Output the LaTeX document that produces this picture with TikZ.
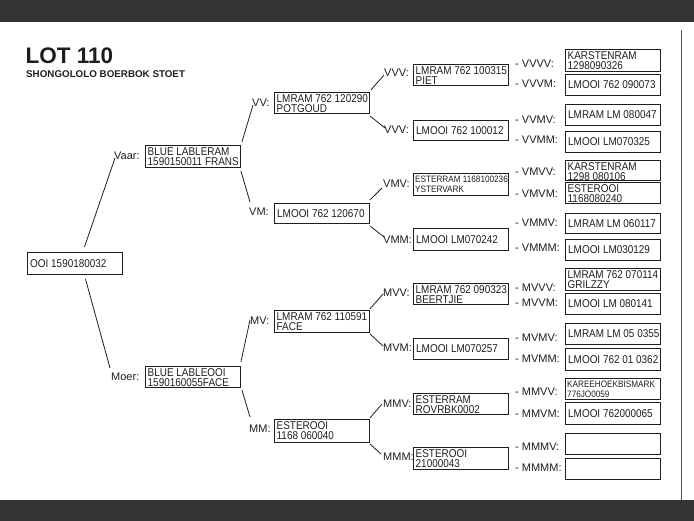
\documentclass[tikz,border=0pt]{standalone}
\usepackage{fontspec}
\setmainfont{Liberation Sans}
\newfontfamily\bxf[FakeStretch=0.88]{Liberation Sans}
\usetikzlibrary{calc}
\definecolor{bar}{HTML}{333333}
\definecolor{ink}{HTML}{1E1E1E}
\definecolor{rule}{HTML}{555555}
\newcommand\TwoBox[5]{\node[pbox,minimum height=#4] (b#1) at (#2,#3) {};
  \node[ptxt] (t#1) at ($(b#1.north west)+(2.5,2.5)$) {#5};}
\newcommand\SmlBox[5]{\node[pbox,minimum height=#4] (b#1) at (#2,#3) {};
  \node[stxt] (t#1) at ($(b#1.north west)+(2,2.5)$) {#5};}
\newcommand\OneBox[5]{\node[pbox,minimum height=#4] (b#1) at (#2,#3) {};
  \node[otxt] (t#1) at ($(b#1.west)+(3,0)$) {#5};}
\newcommand\NilBox[4]{\node[pbox,minimum height=#4] (b#1) at (#2,#3) {};}
\newcommand\Lab[4]{\node[lab] (l#1) at (#2,#3) {#4};}
\begin{document}
\begin{tikzpicture}[x=1pt,y=-1pt,
  pbox/.style={draw=ink, line width=0.9pt, anchor=north west, minimum width=95pt, inner sep=0pt},
  ptxt/.style={anchor=north west, inner sep=0pt, align=left, text=ink, font=\bxf\fontsize{11.3}{10.2}\selectfont},
  stxt/.style={anchor=north west, inner sep=0pt, align=left, text=ink, font=\bxf\fontsize{9.3}{10}\selectfont},
  otxt/.style={anchor=west, inner sep=0pt, text=ink, font=\bxf\fontsize{11.3}{11}\selectfont},
  lab/.style={anchor=west, inner sep=0pt, text=ink, font=\fontsize{11}{11}\selectfont},
  conn/.style={draw=ink, line width=0.8pt}]
\useasboundingbox (0,0) rectangle (694,521);
\fill[bar] (0,0) rectangle (694,22);
\fill[bar] (0,500) rectangle (694,521);
\draw[rule, line width=0.8pt] (681,30) -- (681,500);

\node[anchor=base west, inner sep=0pt, text=ink, font=\bfseries\fontsize{22.5}{22}\selectfont] (title) at (25.5,64) {LOT 110};
\node[anchor=base west, inner sep=0pt, text=ink, font=\bfseries\fontsize{9.8}{10}\selectfont] (subtitle) at (26,77.5) {SHONGOLOLO BOERBOK STOET};

% generation 0 and 1
\OneBox{root}{27}{252}{22pt}{OOI 1590180032}
\TwoBox{v}{145}{145}{22pt}{BLUE LABLERAM\\1590150011 FRANS}
\TwoBox{m}{145}{366}{21pt}{BLUE LABLEOOI\\1590160055FACE}
% generation 2
\TwoBox{vv}{274}{92}{21pt}{LMRAM 762 120290\\POTGOUD}
\OneBox{vm}{274}{203}{20pt}{LMOOI 762 120670}
\TwoBox{mv}{274}{310}{22pt}{LMRAM 762 110591\\FACE}
\TwoBox{mm}{274}{419}{23pt}{ESTEROOI\\1168 060040}
% generation 3
\TwoBox{vvv}{413}{64}{21pt}{LMRAM 762 100315\\PIET}
\OneBox{vvm}{413}{120}{20pt}{LMOOI 762 100012}
\SmlBox{vmv}{413}{173}{22pt}{ESTERRAM 1168100236\\YSTERVARK}
\OneBox{vmm}{413}{228}{22pt}{LMOOI LM070242}
\TwoBox{mvv}{413}{283}{21pt}{LMRAM 762 090323\\BEERTJIE}
\OneBox{mvm}{413}{338}{21pt}{LMOOI LM070257}
\TwoBox{mmv}{413}{393}{21pt}{ESTERRAM\\ROVRBK0002}
\TwoBox{mmm}{413}{447}{22pt}{ESTEROOI\\21000043}
% generation 4
\TwoBox{vvvv}{565}{49}{22pt}{KARSTENRAM\\1298090326}
\OneBox{vvvm}{565}{74}{21pt}{LMOOI 762 090073}
\OneBox{vvmv}{565}{104}{21pt}{LMRAM LM 080047}
\OneBox{vvmm}{565}{131}{21pt}{LMOOI LM070325}
\TwoBox{vmvv}{565}{160}{20pt}{KARSTENRAM\\1298 080106}
\TwoBox{vmvm}{565}{182}{21pt}{ESTEROOI\\1168080240}
\OneBox{vmmv}{565}{213}{20pt}{LMRAM LM 060117}
\OneBox{vmmm}{565}{239}{21pt}{LMOOI LM030129}
\TwoBox{mvvv}{565}{268}{22pt}{LMRAM 762 070114\\GRILZZY}
\OneBox{mvvm}{565}{293}{21pt}{LMOOI LM 080141}
\OneBox{mvmv}{565}{323}{21pt}{LMRAM LM 05 0355}
\OneBox{mvmm}{565}{348}{22pt}{LMOOI 762 01 0362}
\SmlBox{mmvv}{565}{378}{21pt}{KAREEHOEKBISMARK\\776JO0059}
\OneBox{mmvm}{565}{402}{22pt}{LMOOI 762000065}
\NilBox{mmmv}{565}{433}{21pt}
\NilBox{mmmm}{565}{458}{21pt}

% labels
\Lab{vaar}{114}{155.5}{Vaar:}
\Lab{moer}{111}{377}{Moer:}
\Lab{vv}{252}{103}{VV:}
\Lab{vm}{249}{212}{VM:}
\Lab{mv}{250}{321}{MV:}
\Lab{mm}{249}{429}{MM:}
\Lab{vvv}{384}{73}{VVV:}
\Lab{vvm}{384}{130}{VVV:}
\Lab{vmv}{383}{184}{VMV:}
\Lab{vmm}{383}{240}{VMM:}
\Lab{mvv}{383}{293}{MVV:}
\Lab{mvm}{383}{348}{MVM:}
\Lab{mmv}{383}{404}{MMV:}
\Lab{mmm}{383}{457}{MMM:}
\Lab{vvvv}{515}{64}{- VVVV:}
\Lab{vvvm}{515}{84}{- VVVM:}
\Lab{vvmv}{515}{120}{- VVMV:}
\Lab{vvmm}{515}{140}{- VVMM:}
\Lab{vmvv}{515}{172}{- VMVV:}
\Lab{vmvm}{515}{194}{- VMVM:}
\Lab{vmmv}{515}{223}{- VMMV:}
\Lab{vmmm}{515}{248}{- VMMM:}
\Lab{mvvv}{515}{288}{- MVVV:}
\Lab{mvvm}{515}{303}{- MVVM:}
\Lab{mvmv}{515}{338}{- MVMV:}
\Lab{mvmm}{515}{359}{- MVMM:}
\Lab{mmvv}{515}{392}{- MMVV:}
\Lab{mmvm}{515}{414}{- MMVM:}
\Lab{mmmv}{515}{447}{- MMMV:}
\Lab{mmmm}{515}{468}{- MMMM:}

% connectors
\draw[conn] ($(broot.north)+(9.5,-5)$) -- ($(lvaar.west)+(1,2.5)$);
\draw[conn] ($(broot.south)+(10.5,4)$) -- ($(lmoer.west)+(-1,-9)$);
\draw[conn] ($(bv.north east)+(1,-3)$) -- ($(lvv.west)+(1,2)$);
\draw[conn] ($(bv.south east)+(0,3)$) -- ($(lvm.west)+(1,-10)$);
\draw[conn] ($(bm.north east)+(0,-4)$) -- ($(lmv.west)+(0,-1)$);
\draw[conn] ($(bm.south east)+(1,2)$) -- ($(lmm.west)+(1,-12)$);
\draw[conn] ($(bvv.north east)+(1,-2)$) -- ($(lvvv.west)+(0,2)$);
\draw[conn] ($(bvv.south east)+(0,2)$) -- ($(lvvm.west)+(1,-2)$);
\draw[conn] ($(bvm.north east)+(0,-3)$) -- ($(lvmv.west)+(-1,4)$);
\draw[conn] ($(bvm.south east)+(0,2)$) -- ($(lvmm.west)+(1,-3)$);
\draw[conn] ($(bmv.north east)+(0,-1)$) -- ($(lmvv.west)+(0,1)$);
\draw[conn] ($(bmv.south east)+(0,1)$) -- ($(lmvm.west)+(0,-2)$);
\draw[conn] ($(bmm.north east)+(0,-1)$) -- ($(lmmv.west)+(-1,0)$);
\draw[conn] ($(bmm.south east)+(0,1)$) -- ($(lmmm.west)+(-2,-3)$);
\end{tikzpicture}
\end{document}
